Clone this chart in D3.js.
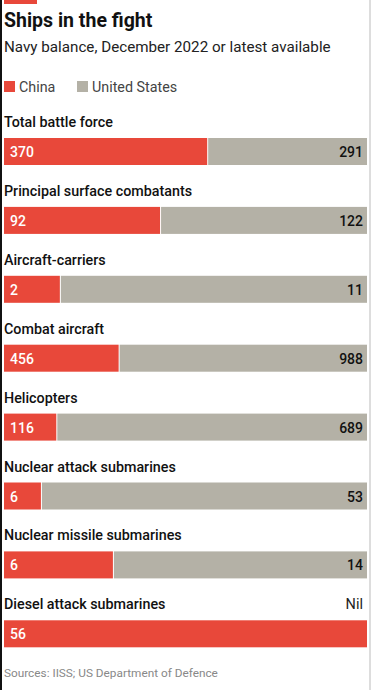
<!DOCTYPE html>
<html>
<head>
<title>Ships in the fight</title>
<script src='https://cdnjs.cloudflare.com/ajax/libs/d3/7.8.5/d3.min.js'></script>
<style>
	body { margin:0; background:#fff; }
	text { font-family: Roboto, "Noto Sans", sans-serif; }
</style>
</head>
<body>

<script>
	// navy balance data
	var categories = ["Total battle force", "Principal surface combatants", "Aircraft-carriers",
		"Combat aircraft", "Helicopters", "Nuclear attack submarines",
		"Nuclear missile submarines", "Diesel attack submarines"];
	var china = [370, 92, 2, 456, 116, 6, 6, 56];
	var unitedStates = [291, 122, 11, 988, 689, 53, 14, 0];
	var seriesNames = ["China", "United States"];

	var red = "#e8483a",
		grey = "#b4b1a6";

	var width = 371,
		height = 690;

	var svg = d3.select("body")
				.append("svg")
				.attr("width", width)
				.attr("height", height);

	// frame edges
	svg.append("rect").attr("x",0).attr("y",0).attr("width",2).attr("height",height).attr("fill","#111");
	svg.append("rect").attr("x",369).attr("y",0).attr("width",2).attr("height",height).attr("fill","#ddd");
	svg.append("rect").attr("x",4).attr("y",0).attr("width",33).attr("height",4).attr("fill",red);

	svg.append("text").attr("x",4).attr("y",27)
		.attr("font-size","19.5px").attr("font-weight","bold").attr("fill","#111")
		.text("Ships in the fight");
	svg.append("text").attr("x",4).attr("y",52)
		.attr("font-size","15.2px").attr("fill","#222")
		.text("Navy balance, December 2022 or latest available");

	// legend
	var legend = svg.selectAll(".legend")
		.data(seriesNames)
		.enter().append("g")
		.attr("class","legend")
		.attr("transform", function(d,i){ return "translate(" + (i==0 ? 4 : 77) + ",81)"; });
	legend.append("rect").attr("width",11).attr("height",11)
		.attr("fill", function(d,i){ return i==0 ? red : grey; });
	legend.append("text").attr("x",15).attr("y",10.5)
		.attr("font-size","14.3px").attr("fill","#444")
		.text(function(d){ return d; });

	var x = d3.scaleLinear().domain([0,1]).range([4,367]);
	var y = d3.scaleBand().domain(categories).range([138, 138 + 68.9*8]).paddingInner(0);
	var barH = 27;

	var rows = svg.selectAll(".row")
		.data(categories)
		.enter().append("g")
		.attr("class","row")
		.attr("transform", function(d){ return "translate(0," + y(d) + ")"; });

	rows.append("text").attr("x",4).attr("y",-11)
		.attr("font-size","14.3px").attr("font-weight","500").attr("fill","#111")
		.text(function(d){ return d; });

	rows.each(function(d,i){
		var g = d3.select(this);
		var total = china[i] + unitedStates[i];
		var share = china[i] / total;
		g.append("rect").attr("x", x(0)).attr("y",0)
			.attr("width", x(share) - x(0)).attr("height", barH).attr("fill", red);
		if (unitedStates[i] > 0) {
			g.append("rect").attr("x", x(share) + 1).attr("y",0)
				.attr("width", x(1) - x(share) - 1).attr("height", barH).attr("fill", grey);
			g.append("text").attr("x", x(1) - 4).attr("y", 19)
				.attr("text-anchor","end").attr("font-size","14px").attr("font-weight","500")
				.attr("fill","#111").text(unitedStates[i]);
		} else {
			g.append("text").attr("x", x(1) - 4).attr("y", -11)
				.attr("text-anchor","end").attr("font-size","14.5px")
				.attr("fill","#222").text("Nil");
		}
		g.append("text").attr("x", 10).attr("y", 19)
			.attr("font-size","14px").attr("font-weight","500")
			.attr("fill","#fff").text(china[i]);
	});

	svg.append("text").attr("x",4).attr("y",677)
		.attr("font-size","11.8px").attr("fill","#888")
		.text("Sources: IISS; US Department of Defence");
</script>
</body>
</html>
